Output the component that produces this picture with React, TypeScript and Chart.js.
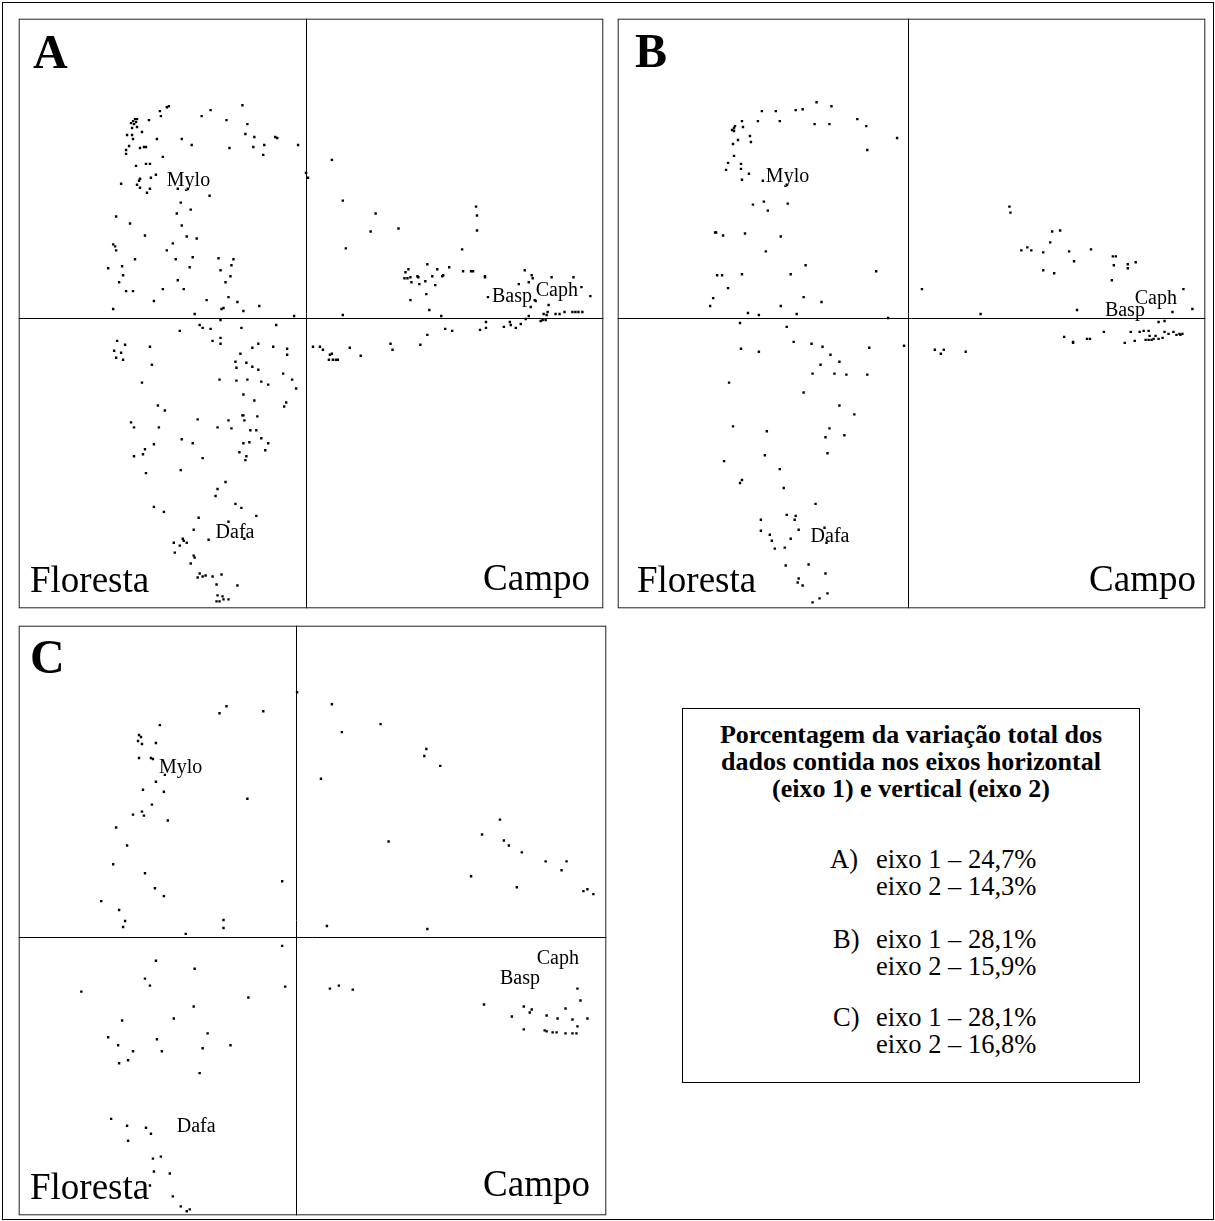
import React, { useEffect, useRef } from "react";
import { Chart, registerables } from "chart.js";
Chart.register(...registerables);

// Ordination scores (axis 1, axis 2), in plot units centred on the origin
const pointsA: [number, number][] = [
  [-138, 213], [-140, 212], [-147, 208], [-146, 203], [-96, 209], [-105, 203], [-64, 214], [-80, 199], [-59, 195],
  [-158, 199], [-172, 200], [-170, 200], [-174, 198], [-176, 196], [-173, 195], [-171, 197], [-175, 191], [-170, 192],
  [-165, 187], [-180, 184], [-175, 184], [-174, 180], [-150, 180], [-125, 180], [-61, 185], [-52, 182], [-31, 182],
  [-29, 181], [-8, 174], [-42, 174], [-53, 172], [-43, 164], [-77, 171], [-115, 174], [-178, 173], [-181, 169],
  [-181, 165], [-167, 171], [-163, 172], [-161, 172], [-144, 162], [-171, 153], [-161, 155], [-157, 155], [0, 146],
  [-151, 144], [-156, 141], [-167, 140], [-168, 138], [-170, 134], [-186, 135], [-167, 131], [-157, 130], [-160, 126],
  [-129, 130], [-119, 130], [-97, 123], [-126, 116], [-116, 109], [-130, 105], [-191, 102], [-177, 95], [-125, 93],
  [-162, 83], [-120, 82], [-110, 80], [-134, 75], [-194, 74], [-192, 72], [-191, 68], [-140, 68], [-172, 59],
  [-131, 59], [-114, 61], [-88, 60], [-73, 59], [-75, 53], [-185, 52], [-199, 50], [-117, 51], [-86, 48], [-184, 43],
  [-76, 42], [-188, 36], [-129, 38], [-81, 36], [-181, 27], [-174, 27], [-144, 29], [-123, 29], [-153, 17], [-100, 18],
  [-78, 21], [-69, 16], [-194, 9], [-83, 10], [-85, 9], [-47, 12], [-63, 7], [-112, 4], [-12, 2],
  [-86, -2], [-107, -7], [-104, -10], [-96, -11], [-127, -13], [-65, -10], [-30, -7], [-190, -23], [-182, -27],
  [-193, -33], [-186, -35], [-191, -40], [-184, -42], [-157, -29], [-94, -23], [-86, -20], [-86, -26], [-48, -26],
  [-54, -30], [-33, -29], [-19, -31], [-19, -37], [-66, -36], [-71, -44], [-60, -45], [-70, -50], [-54, -49],
  [-48, -52], [-155, -47], [-23, -56], [-14, -62], [-10, -71], [-87, -62], [-70, -63], [-59, -62], [-45, -64],
  [-38, -67], [-165, -65], [-63, -77], [-52, -83], [-20, -85], [-22, -89], [-149, -88], [-142, -93], [-64, -98],
  [-63, -98], [-49, -99], [-62, -103], [-78, -103], [-109, -102], [-176, -105], [-173, -110], [-148, -110], [-89, -110],
  [-75, -111], [-56, -113], [-50, -113], [-125, -122], [-114, -126], [-63, -126], [-57, -125], [-45, -121], [-38, -126],
  [-153, -127], [-162, -132], [-164, -137], [-173, -139], [-67, -135], [-60, -139], [-61, -143], [-41, -133],
  [-104, -141], [-161, -156], [-126, -153], [-81, -165], [-89, -172], [-91, -179], [-153, -190], [-143, -195],
  [-71, -187], [-65, -191], [-50, -199], [-108, -201], [-113, -213], [-78, -205], [-98, -223], [-62, -222],
  [-133, -226], [-127, -229], [-124, -222], [-123, -224], [-120, -226], [-132, -236], [-113, -239], [-112, -241],
  [-116, -247], [-107, -257], [-109, -261], [-104, -260], [-101, -259], [-94, -260], [-85, -258], [-90, -268],
  [-69, -269], [-89, -279], [-84, -280], [-83, -283], [-87, -285], [-90, -285], [-78, -283],
  [2, 141], [26, 159], [37, 118], [70, 105], [65, 87], [93, 90], [40, 70], [171, 112], [172, 103], [172, 88],
  [157, 69], [122, 54], [103, 49], [100, 46], [99, 40], [102, 40], [105, 41], [112, 42], [113, 41], [106, 36],
  [114, 34], [120, 37], [127, 42], [132, 49], [138, 43], [137, 42], [144, 51], [130, 33], [158, 47], [166, 47],
  [168, 47], [180, 42], [180, 41], [121, 24], [105, 18], [124, 8], [37, 3], [136, 2], [220, 48], [227, 43],
  [228, 40], [247, 41], [269, 41], [214, 34], [224, 36], [183, 21], [230, 18], [231, 17], [277, 31], [286, 22],
  [226, 11], [244, 13], [239, 4], [243, 6], [242, 3], [251, 4], [255, 4], [260, 6], [268, 6], [271, 6], [274, 6],
  [278, 6], [224, 2],
  [7, -29], [14, -29], [17, -32], [24, -37], [26, -36], [23, -42], [27, -42], [30, -42], [32, -42], [44, -30],
  [55, -38], [85, -26], [87, -32], [115, -27], [122, -17], [140, -11], [147, -13], [175, -12], [181, -10], [181, -4],
  [199, -9], [205, -4], [206, -7], [211, -10], [216, -6], [221, -1], [236, -3], [238, -2], [241, -2],
];

const pointsB: [number, number][] = [
  [-92, 217], [-77, 213], [-113, 209], [-106, 210], [-133, 208], [-147, 208], [-167, 198], [-151, 198], [-129, 198],
  [-94, 195], [-79, 195], [-51, 200], [-42, 193], [-11, 181], [-41, 169], [-174, 193], [-175, 191], [-166, 192],
  [-177, 189], [-175, 188], [-159, 183], [-171, 179], [-158, 177], [-176, 175], [-175, 163], [-181, 156], [-183, 149],
  [-168, 155], [-168, 150], [-160, 145], [-167, 139], [-146, 138], [-122, 134], [-145, 117], [-156, 114], [-141, 108],
  [-121, 115], [-194, 86], [-193, 86], [-186, 83], [-164, 85], [-128, 82], [-143, 67], [-103, 53], [-192, 43],
  [-187, 43], [-167, 44], [-118, 44], [-32, 47], [-181, 30], [-196, 20], [-199, 12], [-105, 21], [-87, 16],
  [-128, 12], [-161, 5], [-150, 3], [-112, 4],
  [102, 112], [103, 106], [145, 87], [153, 88], [143, 76], [114, 68], [120, 71], [124, 68], [136, 66], [162, 67],
  [167, 57], [184, 69], [136, 48], [147, 45], [206, 62], [209, 62], [207, 53], [221, 54], [221, 50], [229, 56],
  [205, 38], [14, 29], [73, 4], [170, 8], [277, 29], [266, 6], [286, 9],
  [-169, -5], [-122, -9], [-20, 0], [-168, -31], [-150, -34], [-115, -24], [-97, -26], [-86, -29], [-78, -37],
  [-69, -44], [-88, -47], [-39, -30], [-4, -28], [-96, -56], [-74, -56], [-62, -57], [-41, -57], [-180, -65],
  [-105, -75], [-69, -88], [-54, -97], [-176, -109], [-142, -114], [-79, -111], [-83, -120], [-64, -118], [-81, -136],
  [-144, -138], [-185, -144], [-129, -152], [-167, -163], [-169, -166], [-125, -171], [-93, -187], [-148, -203],
  [-122, -198], [-113, -199], [-114, -203], [-148, -214], [-139, -218], [-137, -224], [-110, -213], [-118, -222],
  [-84, -211], [-82, -226], [-134, -232], [-124, -231], [-123, -249], [-100, -248], [-83, -257], [-110, -262],
  [-111, -266], [-106, -269], [-81, -277], [-89, -282], [-96, -286],
  [27, -32], [33, -36], [36, -32], [58, -34], [157, -19], [166, -24], [166, -25], [180, -21], [183, -21], [197, -14],
  [218, -25], [228, -23], [224, -14], [233, -14], [237, -13], [242, -13], [243, -18], [249, -18], [239, -22],
  [242, -22], [245, -22], [247, -21], [252, -21], [256, -20], [258, -14], [262, -16], [267, -14], [270, -17],
  [273, -16], [276, -16], [274, -17], [252, -4], [258, -3],
];

const pointsC: [number, number][] = [
  [-70, 232], [-77, 225], [-33, 227], [-137, 213], [-158, 203], [-156, 201], [-159, 197], [-155, 194], [-141, 195],
  [-158, 180], [-146, 180], [-144, 179], [-132, 163], [-141, 156], [-154, 148], [-133, 146], [-49, 139], [-145, 133],
  [-155, 126], [-153, 122], [-164, 123], [-129, 117], [-181, 110], [-170, 92], [-184, 73], [-152, 64], [-14, 56],
  [-142, 49], [-133, 41], [-196, 36], [-178, 27], [-172, 16], [-174, 10], [-73, 17], [-73, 9], [-111, 3], [1, 246],
  [36, 234], [46, 206], [85, 214], [131, 189], [129, 182], [145, 172], [25, 159], [93, 96], [205, 118], [187, 103],
  [209, 97], [214, 92], [227, 85], [251, 76], [272, 76], [267, 67], [176, 61], [222, 50], [289, 46], [293, 48],
  [299, 43], [31, 11], [132, 8],
  [-14, -9], [-11, -50], [-141, -24], [-102, -32], [-152, -42], [-147, -49], [-216, -55], [-48, -61], [-103, -70],
  [-123, -82], [-175, -84], [-189, -101], [-89, -97], [-179, -109], [-140, -103], [-66, -109], [-164, -115],
  [-135, -115], [-94, -112], [-178, -127], [-169, -124], [-97, -137], [-186, -183], [-170, -190], [-151, -192],
  [-146, -198], [-169, -205], [-144, -223], [-136, -221], [-143, -236], [-127, -238], [-147, -250], [-124, -261],
  [-116, -271], [-110, -276], [-107, -274],
  [34, -52], [43, -49], [57, -53], [189, -68], [217, -80], [229, -70], [235, -76], [237, -73], [229, -93], [252, -79],
  [263, -82], [271, -72], [283, -52], [286, -64], [278, -83], [293, -82], [283, -90], [250, -94], [252, -95],
  [258, -96], [262, -96], [271, -97], [278, -97], [282, -97],
];

// Species labels placed at their scores
const speciesA = [
  { name: "Mylo", x: -140, y: 133 },
  { name: "Basp", x: 187, y: 16 },
  { name: "Caph", x: 231, y: 22 },
  { name: "Dafa", x: -91, y: -221 },
];
const speciesB = [
  { name: "Mylo", x: -143, y: 137 },
  { name: "Basp", x: 198, y: 2 },
  { name: "Caph", x: 228, y: 14 },
  { name: "Dafa", x: -98, y: -225 },
];
const speciesC = [
  { name: "Mylo", x: -138, y: 165 },
  { name: "Basp", x: 205, y: -47 },
  { name: "Caph", x: 242, y: -27 },
  { name: "Dafa", x: -120, y: -196 },
];

const panelLetters = ["A", "B", "C"];
const habitatLeft = "Floresta";
const habitatRight = "Campo";

const legendTitle = [
  "Porcentagem da variação total dos",
  "dados contida nos eixos horizontal",
  "(eixo 1) e vertical (eixo 2)",
];
const legendGroups = ["A)", "B)", "C)"];
const axis1Pct = ["24,7%", "28,1%", "28,1%"];
const axis2Pct = ["14,3%", "15,9%", "16,8%"];

const SERIF = '"Liberation Serif", "Times New Roman", serif';

type PanelCfg = {
  letter: string;
  points: [number, number][];
  species: { name: string; x: number; y: number }[];
  left: number;
  top: number;
  w: number;
  h: number;
  xRange: [number, number];
  yRange: [number, number];
  letterPos: [number, number];
  florestaPos: [number, number];
  campoPos: [number, number];
};

const panels: PanelCfg[] = [
  {
    letter: panelLetters[0], points: pointsA, species: speciesA,
    left: 17, top: 17, w: 588, h: 593, xRange: [-289, 299], yRange: [-292, 301],
    letterPos: [16, 51], florestaPos: [13, 575], campoPos: [573, 573],
  },
  {
    letter: panelLetters[1], points: pointsB, species: speciesB,
    left: 616, top: 17, w: 591, h: 593, xRange: [-292, 299], yRange: [-292, 301],
    letterPos: [19, 50], florestaPos: [21, 575], campoPos: [580, 574],
  },
  {
    letter: panelLetters[2], points: pointsC, species: speciesC,
    left: 17, top: 624, w: 591, h: 593, xRange: [-279, 312], yRange: [-280, 313],
    letterPos: [13, 49], florestaPos: [13, 575], campoPos: [573, 572],
  },
];

function makePlugin(cfg: PanelCfg) {
  return {
    id: "panelDecor" + cfg.letter,
    beforeDatasetsDraw(chart: any) {
      const { ctx, chartArea, scales } = chart;
      const x0 = Math.round(scales.x.getPixelForValue(0)) + 0.5;
      const y0 = Math.round(scales.y.getPixelForValue(0)) + 0.5;
      ctx.save();
      ctx.strokeStyle = "#000";
      ctx.lineWidth = 1;
      ctx.beginPath();
      ctx.moveTo(x0, chartArea.top);
      ctx.lineTo(x0, chartArea.bottom);
      ctx.moveTo(chartArea.left, y0);
      ctx.lineTo(chartArea.right, y0);
      ctx.stroke();
      ctx.restore();
    },
    afterDraw(chart: any) {
      const { ctx, chartArea, scales } = chart;
      ctx.save();
      ctx.strokeStyle = "#222";
      ctx.lineWidth = 1;
      ctx.strokeRect(chartArea.left + 0.5, chartArea.top + 0.5, chartArea.right - chartArea.left - 1, chartArea.bottom - chartArea.top - 1);
      ctx.fillStyle = "#000";
      ctx.textBaseline = "alphabetic";
      ctx.textAlign = "left";
      ctx.font = `20px ${SERIF}`;
      cfg.species.forEach((s) => {
        ctx.fillText(s.name, scales.x.getPixelForValue(s.x), scales.y.getPixelForValue(s.y));
      });
      ctx.font = `bold 48px ${SERIF}`;
      ctx.fillText(cfg.letter, cfg.letterPos[0], cfg.letterPos[1]);
      ctx.font = `37px ${SERIF}`;
      ctx.fillText(habitatLeft, cfg.florestaPos[0], cfg.florestaPos[1]);
      ctx.textAlign = "right";
      ctx.fillText(habitatRight, cfg.campoPos[0], cfg.campoPos[1]);
      ctx.restore();
    },
  };
}

function Panel({ cfg }: { cfg: PanelCfg }) {
  const ref = useRef<HTMLCanvasElement>(null);
  useEffect(() => {
    if (!ref.current) return;
    const chart = new Chart(ref.current, {
      type: "scatter",
      data: {
        datasets: [
          {
            data: cfg.points.map(([x, y]) => ({ x, y })),
            pointStyle: "rect",
            pointRadius: 1.7,
            pointHoverRadius: 1.7,
            backgroundColor: "#000",
            borderWidth: 0,
          },
        ],
      },
      options: {
        animation: false,
        responsive: false,
        devicePixelRatio: 1,
        events: [],
        layout: { padding: 0 },
        scales: {
          x: { type: "linear", min: cfg.xRange[0], max: cfg.xRange[1], display: false },
          y: { type: "linear", min: cfg.yRange[0], max: cfg.yRange[1], display: false },
        },
        plugins: { legend: { display: false }, tooltip: { enabled: false } },
      },
      plugins: [makePlugin(cfg)],
    } as any);
    return () => chart.destroy();
  }, [cfg]);
  return (
    <canvas
      ref={ref}
      width={cfg.w}
      height={cfg.h}
      style={{ position: "absolute", left: cfg.left, top: cfg.top, width: cfg.w, height: cfg.h }}
    />
  );
}

const lineStyle = (top: number, left: number, bold = false, size = 26.5): React.CSSProperties => ({
  position: "absolute",
  top,
  left,
  fontFamily: SERIF,
  fontSize: size,
  lineHeight: `${size}px`,
  fontWeight: bold ? "bold" : "normal",
  whiteSpace: "nowrap",
  color: "#000",
});

export default function App() {
  const titleTops = [722, 749, 776];
  const groupTops = [846, 926, 1004];
  return (
    <div style={{ position: "absolute", left: 0, top: 0, width: 1215, height: 1221, background: "#fff", overflow: "hidden" }}>
      <div style={{ position: "absolute", left: 2, top: 2, width: 1210, height: 1216, border: "1px solid #000" }} />
      {panels.map((p) => (
        <Panel key={p.letter} cfg={p} />
      ))}
      <div style={{ position: "absolute", left: 682, top: 708, width: 456, height: 373, border: "1.5px solid #000" }} />
      {legendTitle.map((t, i) => (
        <div key={t} style={{ ...lineStyle(titleTops[i], 682, true, 26), width: 458, textAlign: "center" }}>
          {t}
        </div>
      ))}
      {legendGroups.map((g, i) => (
        <React.Fragment key={g}>
          <div style={lineStyle(groupTops[i], i === 0 ? 830 : 833)}>{g}</div>
          <div style={lineStyle(groupTops[i], 876)}>{"eixo 1 – " + axis1Pct[i]}</div>
          <div style={lineStyle(groupTops[i] + 27, 876)}>{"eixo 2 – " + axis2Pct[i]}</div>
        </React.Fragment>
      ))}
    </div>
  );
}
